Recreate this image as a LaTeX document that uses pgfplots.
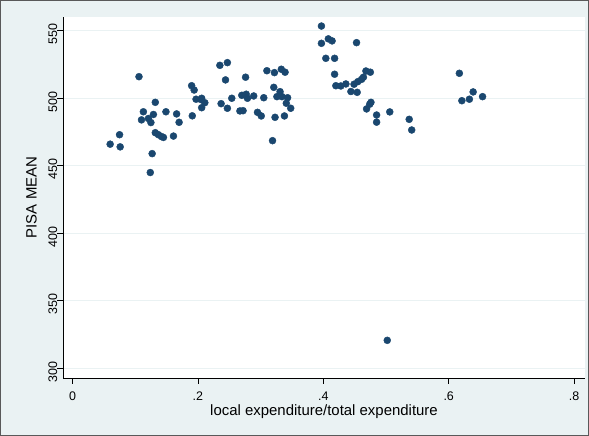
\documentclass[border=0pt]{standalone}
\usepackage{pgfplots}
\pgfplotsset{compat=1.18}
\usepackage{fontspec}
\setmainfont{Liberation Sans}
\definecolor{stbg}{RGB}{234,242,243}
\definecolor{stdot}{RGB}{26,71,111}
\pgfplotstableread{
x y
0.060 466
0.076 464
0.075 473
0.106 516
0.110 484
0.113 490
0.121 485
0.125 482
0.129 488
0.132 497
0.124 445
0.127 459
0.132 474.5
0.137 473
0.142 471.6
0.145 471
0.149 490
0.161 472
0.166 488.4
0.170 482.2
0.190 509.3
0.194 506.1
0.191 487
0.197 499.3
0.206 500
0.211 496.7
0.205 499
0.206 493
0.235 524.4
0.247 526.4
0.244 513.6
0.237 496
0.247 492.6
0.254 500
0.270 502.2
0.277 503
0.279 500
0.289 501.7
0.267 490.6
0.272 490.8
0.276 515.6
0.295 489.6
0.301 486.9
0.305 500.4
0.310 520.4
0.322 519
0.333 521.5
0.339 519.3
0.321 508.1
0.331 504.9
0.326 501.2
0.334 501.2
0.343 500.4
0.341 496.3
0.348 492.6
0.323 485.9
0.338 486.9
0.319 468.6
0.397 553.5
0.397 540.7
0.408 544
0.414 542.5
0.404 529.6
0.418 529.6
0.418 517.8
0.420 509.3
0.428 509.1
0.436 510.6
0.449 510.4
0.455 512.3
0.461 514
0.464 515.6
0.468 520.2
0.475 519.3
0.444 505
0.454 504.4
0.453 541.2
0.476 497
0.474 495.6
0.469 492.1
0.485 487.6
0.485 482.3
0.506 489.9
0.502 320.7
0.537 484.4
0.541 476.5
0.617 518.5
0.621 498.2
0.633 499.3
0.639 504.7
0.654 501.2
}\pisadata
\begin{document}
\begin{tikzpicture}
\fill[stbg] (0,0) rectangle (589bp,436bp);
\draw[line width=1.2bp, black!65] (0.6bp,0.6bp) rectangle (588.4bp,435.4bp);
\begin{axis}[
  at={(63bp,58bp)}, anchor=south west,
  scale only axis, width=522bp, height=361bp,
  xmin=-0.0152, xmax=0.8174, ymin=292.8, ymax=560.2,
  axis background/.style={fill=white},
  axis lines*=left,
  axis line style={black, line width=0.7bp},
  tick align=outside, major tick length=5.5bp,
  tick style={black, line width=0.7bp},
  xtick={0,0.2,0.4,0.6,0.8}, xticklabels={0,.2,.4,.6,.8},
  ytick={300,350,400,450,500,550},
  ymajorgrids, grid style={stbg, line width=1.4bp},
  tick label style={font=\fontsize{12.5}{14}\selectfont},
  label style={font=\fontsize{15}{17}\selectfont},
  /pgf/number format/assume math mode=true,
  yticklabel style={rotate=90, anchor=south, inner sep=0pt, xshift=-3.5bp},
  xticklabel style={anchor=north, inner sep=0pt, yshift=-8bp},
  xlabel={local expenditure/total expenditure},
  xlabel style={at={(axis description cs:0.5,0)}, anchor=north, inner sep=0pt, yshift=-26.5bp},
  ylabel={PISA MEAN},
  ylabel style={at={(axis description cs:-0.05,0.5)}, anchor=south, inner sep=0pt, rotate=0},
  clip=false,
]
\addplot[only marks, mark=*, mark size=3.5bp, mark options={fill=stdot, draw=stdot}] table[x=x,y=y] {\pisadata};
\end{axis}
\end{tikzpicture}
\end{document}
